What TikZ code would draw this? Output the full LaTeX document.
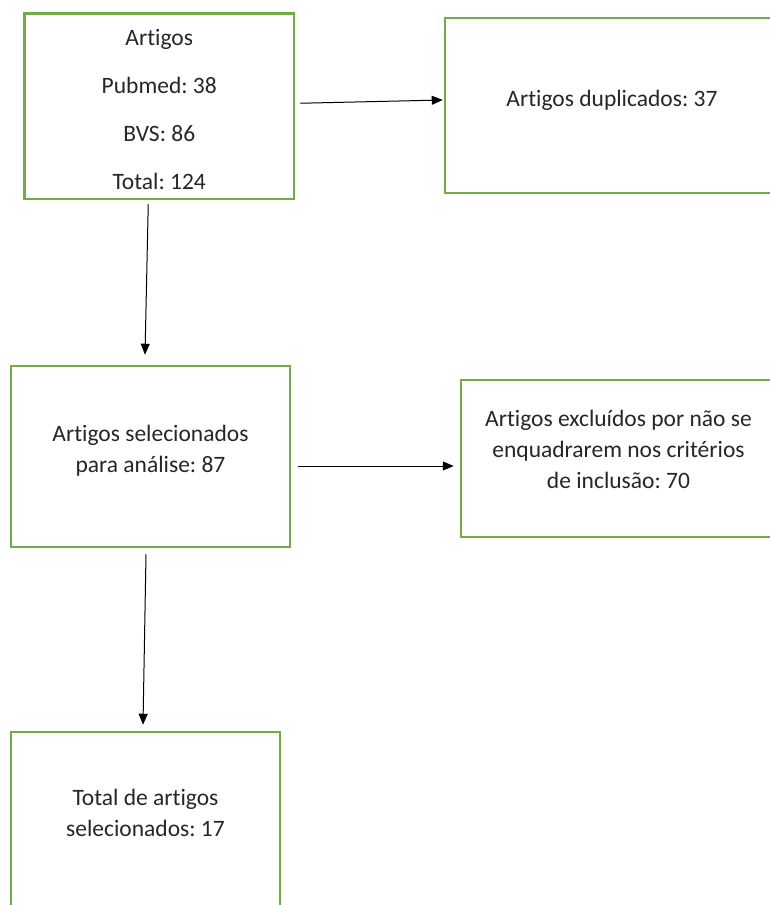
\documentclass[tikz,border=0pt]{standalone}
\usepackage{fontspec}
\setmainfont{Carlito}[Ligatures={NoCommon,NoRequired,NoContextual}]
\usetikzlibrary{arrows.meta}
\definecolor{boxgreen}{RGB}{112,173,71}
\tikzset{
  box/.style={draw=boxgreen,line width=2.5pt,rectangle,inner sep=0pt},
  txt/.style={align=center,font=\fontsize{23.5}{31}\selectfont,text=black!85},
  arr/.style={-{Triangle[length=11pt,width=9pt]},line width=1pt}
}
\frenchspacing

\begin{document}
\begin{tikzpicture}[x=1pt,y=-1pt]
\useasboundingbox (0,0) rectangle (769,905);

\node[box,minimum width=269.5pt,minimum height=185.5pt,
  label={[txt,yshift=-3.5pt]center:{Artigos\\[17pt]Pubmed: 38\\[17pt]BVS: 86\\[17pt]Total: 124}}]
  (artigos) at (159.25,106.25) {};

\node[box,minimum width=334pt,minimum height=175pt,
  label={[txt,yshift=5.5pt]center:{Artigos duplicados: 37}}]
  (dupl) at (612,105.5) {};

\node[box,minimum width=279pt,minimum height=181pt,
  label={[txt,yshift=5.5pt]center:{Artigos selecionados\\para análise: 87}}]
  (selec) at (150.5,456.5) {};

\node[box,minimum width=315pt,minimum height=157pt,
  label={[txt,yshift=9pt]center:{Artigos excluídos por não se\\enquadrarem nos critérios\\de inclusão: 70}}]
  (exclu) at (618.5,458.5) {};

\node[box,minimum width=269pt,minimum height=180pt,
  label={[txt,yshift=9pt]center:{Total de artigos\\selecionados: 17}}]
  (total) at (145.5,822) {};

\draw[arr] ([xshift=5pt,yshift=3pt]artigos.east) -- ([xshift=-1pt,yshift=5.5pt]dupl.west);
\draw[arr] ([xshift=-11pt,yshift=-4pt]artigos.south) -- ([xshift=-5.5pt,yshift=10pt]selec.north);
\draw[arr] ([xshift=7pt,yshift=-9.5pt]selec.east) -- ([xshift=-6pt,yshift=-7.5pt]exclu.west);
\draw[arr] ([xshift=-4.5pt,yshift=-6pt]selec.south) -- ([xshift=-2.5pt,yshift=6pt]total.north);
\end{tikzpicture}
\end{document}
